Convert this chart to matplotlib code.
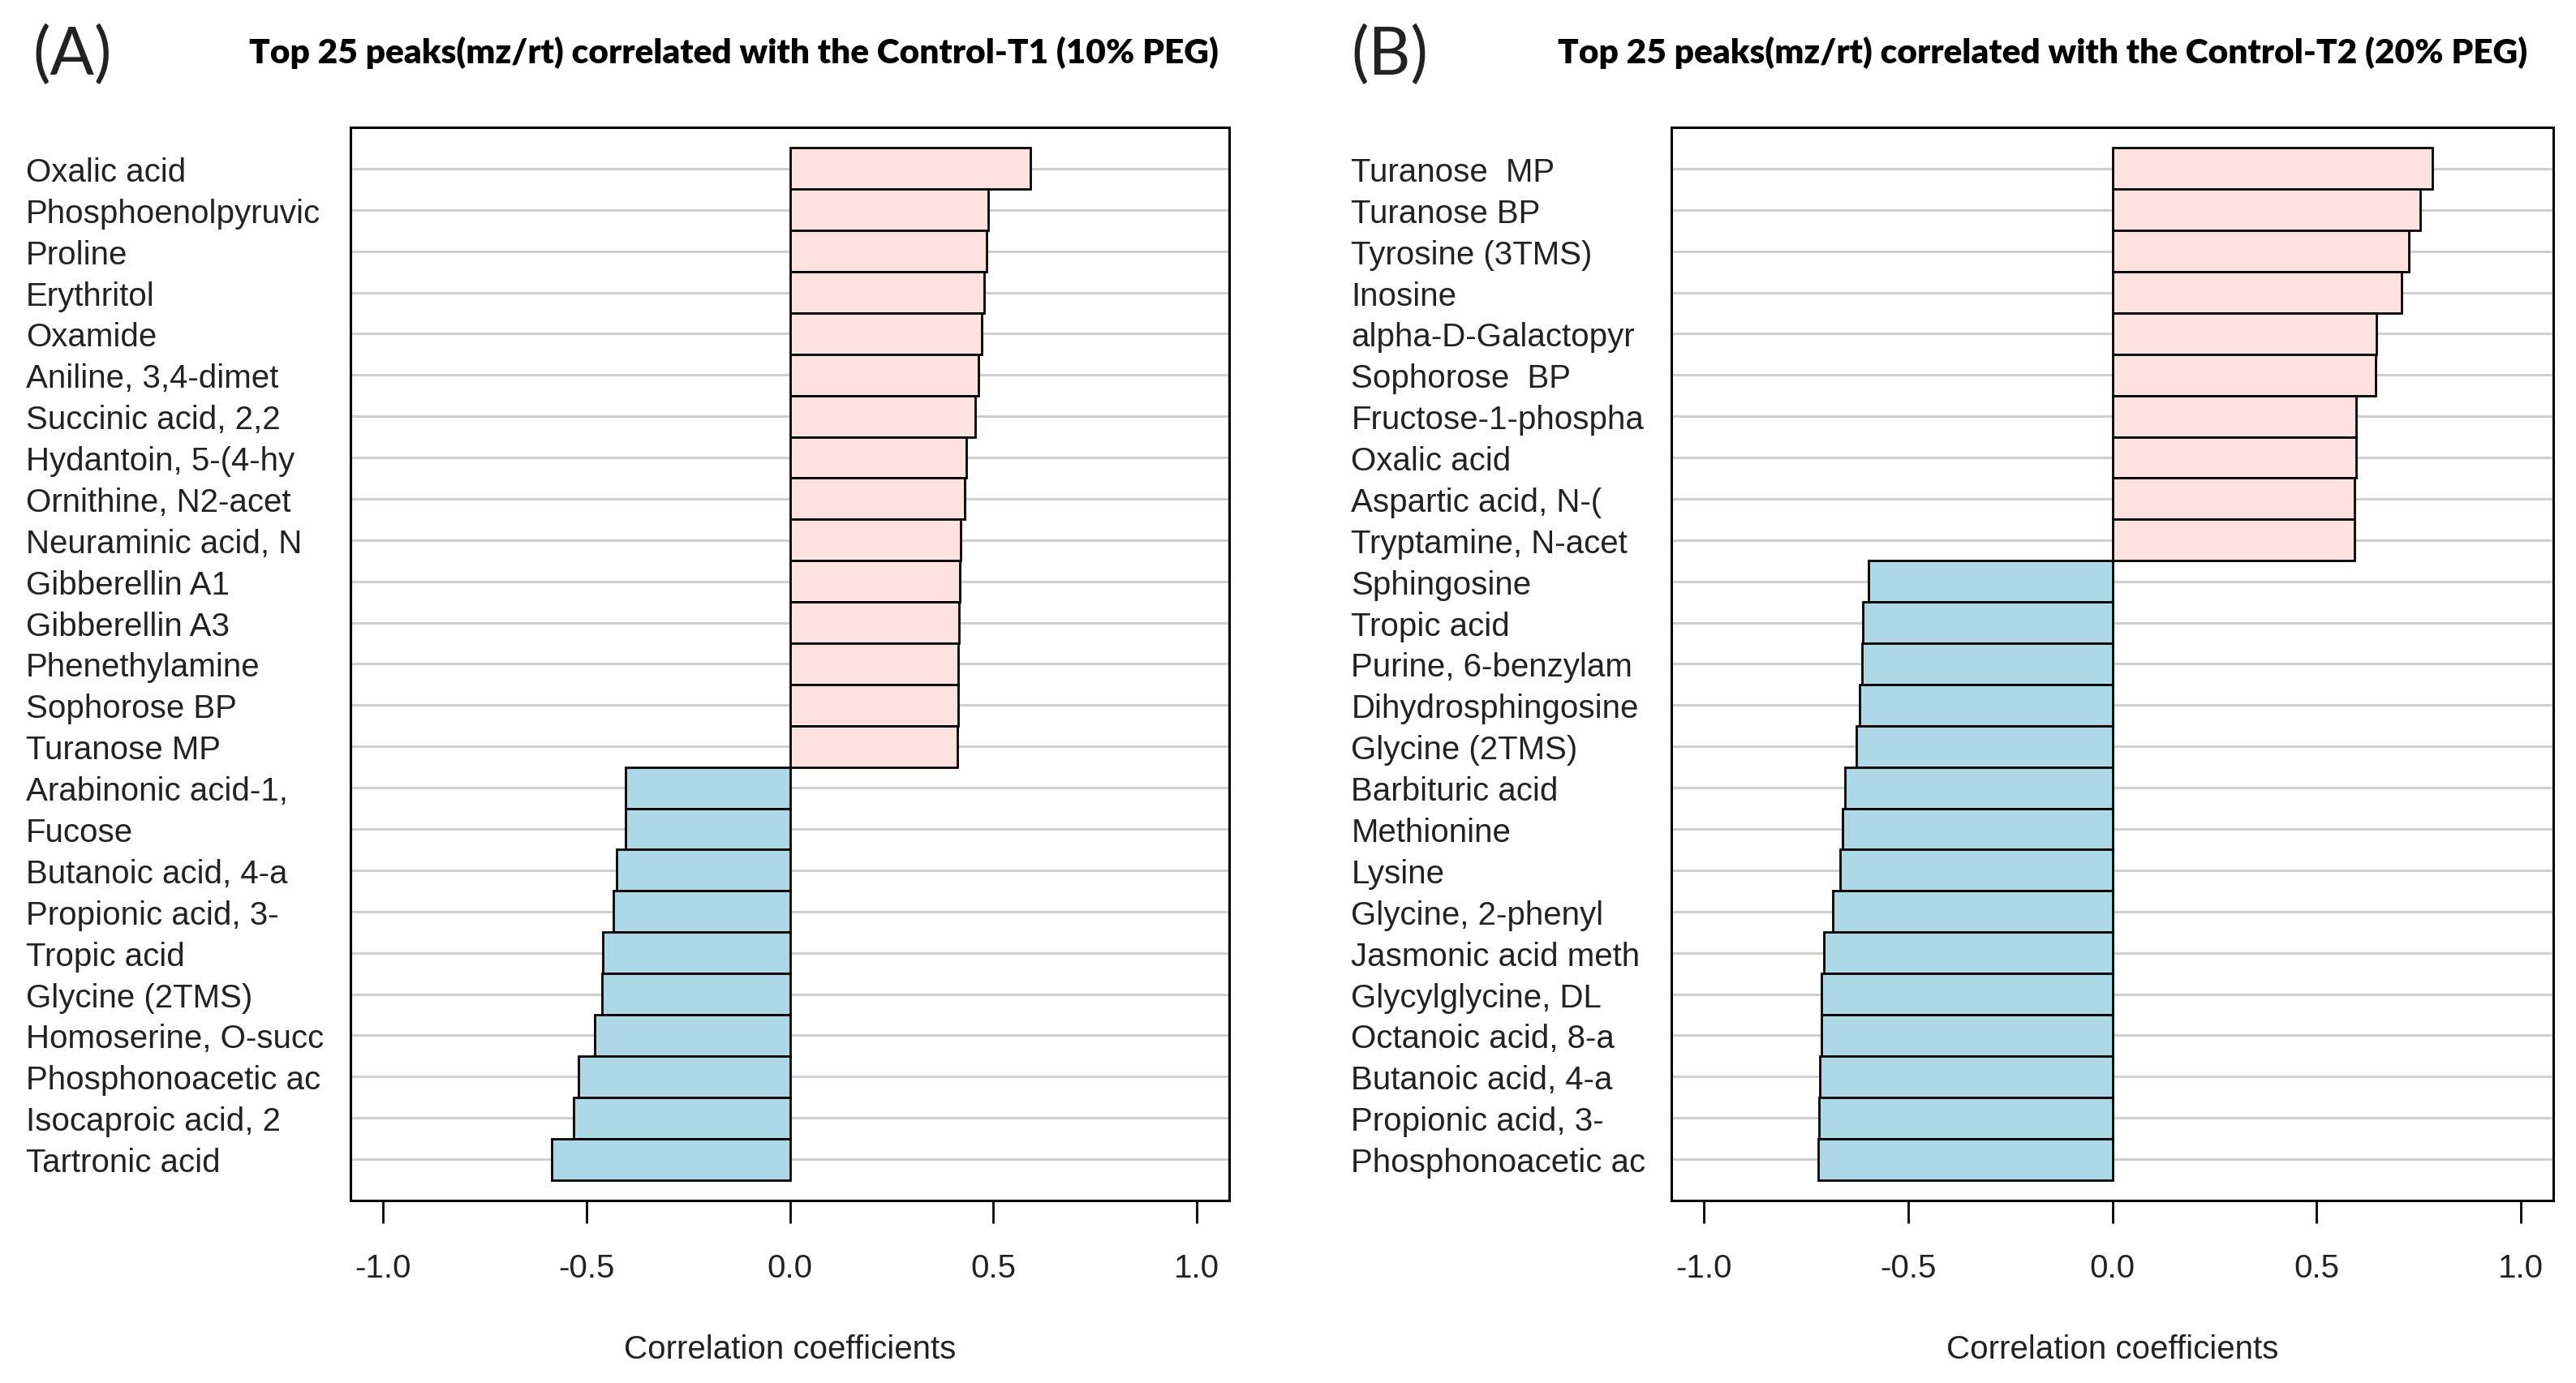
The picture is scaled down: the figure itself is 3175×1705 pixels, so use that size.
import matplotlib
matplotlib.use('Agg')
import matplotlib.pyplot as plt
import numpy as np

# Datos (de arriba hacia abajo)
nombres_a = ['Oxalic acid', 'Phosphoenolpyruvic', 'Proline', 'Erythritol', 'Oxamide',
             'Aniline, 3,4-dimet', 'Succinic acid, 2,2', 'Hydantoin, 5-(4-hy',
             'Ornithine, N2-acet', 'Neuraminic acid, N', 'Gibberellin A1', 'Gibberellin A3',
             'Phenethylamine', 'Sophorose BP', 'Turanose MP', 'Arabinonic acid-1,', 'Fucose',
             'Butanoic acid, 4-a', 'Propionic acid, 3-', 'Tropic acid', 'Glycine (2TMS)',
             'Homoserine, O-succ', 'Phosphonoacetic ac', 'Isocaproic acid, 2', 'Tartronic acid']
valores_a = [0.592, 0.488, 0.484, 0.478, 0.471, 0.463, 0.455, 0.433, 0.429, 0.420,
             0.418, 0.416, 0.414, 0.414, 0.412, -0.404, -0.404, -0.427, -0.435, -0.459,
             -0.461, -0.480, -0.520, -0.531, -0.586]

nombres_b = ['Turanose  MP', 'Turanose BP', 'Tyrosine (3TMS)', 'Inosine', 'alpha-D-Galactopyr',
             'Sophorose  BP', 'Fructose-1-phospha', 'Oxalic acid', 'Aspartic acid, N-(',
             'Tryptamine, N-acet', 'Sphingosine', 'Tropic acid', 'Purine, 6-benzylam',
             'Dihydrosphingosine', 'Glycine (2TMS)', 'Barbituric acid', 'Methionine', 'Lysine',
             'Glycine, 2-phenyl', 'Jasmonic acid meth', 'Glycylglycine, DL', 'Octanoic acid, 8-a',
             'Butanoic acid, 4-a', 'Propionic acid, 3-', 'Phosphonoacetic ac']
valores_b = [0.784, 0.754, 0.726, 0.708, 0.646, 0.644, 0.598, 0.598, 0.594, 0.594,
             -0.598, -0.610, -0.612, -0.618, -0.626, -0.654, -0.660, -0.666, -0.684,
             -0.706, -0.712, -0.712, -0.716, -0.718, -0.720]

ticks_x = [-1.0, -0.5, 0.0, 0.5, 1.0]
etiquetas_x = ['-1.0', '-0.5', '0.0', '0.5', '1.0']

titulo_a = 'Top 25 peaks(mz/rt) correlated with the Control-T1 (10% PEG)'
titulo_b = 'Top 25 peaks(mz/rt) correlated with the Control-T2 (20% PEG)'

ROSA = '#fde2df'
AZUL = '#add8e6'

plt.rcParams['font.family'] = ['Liberation Sans', 'DejaVu Sans']

fig = plt.figure(figsize=(31.75, 17.06), dpi=100)


def dibujar_panel(rect, nombres, valores, pad_etiquetas):
    ax = fig.add_axes(rect)
    n = len(nombres)
    pos = np.arange(n)[::-1]
    colores = [ROSA if v > 0 else AZUL for v in valores]

    # Líneas horizontales grises detrás de las barras
    for p in pos:
        ax.axhline(p, color='#cfcfcf', linewidth=2.2, zorder=0)

    ax.barh(pos, valores, height=1.0, color=colores, edgecolor='black',
            linewidth=2.0, zorder=2)

    ax.set_xlim(-1.08, 1.08)
    ax.set_ylim(-1.0, n)
    ax.set_yticks(pos)
    ax.set_yticklabels(nombres, ha='left', fontsize=29, color='#222222')
    ax.tick_params(axis='y', length=0, pad=pad_etiquetas)
    ax.set_xticks(ticks_x)
    ax.set_xticklabels(etiquetas_x, fontsize=29, color='#222222')
    ax.tick_params(axis='x', length=20, width=2.0, pad=26)
    ax.set_xlabel('Correlation coefficients', fontsize=29, color='#222222', labelpad=45)
    for lado in ax.spines.values():
        lado.set_linewidth(2.2)
    return ax


ax_a = dibujar_panel([0.1361, 0.1319, 0.3411, 0.7755], nombres_a, valores_a, 288)
ax_b = dibujar_panel([0.6488, 0.1319, 0.3424, 0.7755], nombres_b, valores_b, 284)

# Títulos y letras de panel
fig.text(904 / 3175, 1 - 65 / 1706, titulo_a, ha='center', va='center',
         fontsize=30.5, fontweight='heavy', family=['Lato', 'DejaVu Sans'])
fig.text(2518 / 3175, 1 - 65 / 1706, titulo_b, ha='center', va='center',
         fontsize=30.5, fontweight='heavy', family=['Lato', 'DejaVu Sans'])
fig.text(40 / 3175, 1 - 68 / 1706, '(A)', ha='left', va='center',
         fontsize=58, fontweight='normal', family=['Lato', 'DejaVu Sans'], color='#222222')
fig.text(1665 / 3175, 1 - 68 / 1706, '(B)', ha='left', va='center',
         fontsize=58, fontweight='normal', family=['Lato', 'DejaVu Sans'], color='#222222')

fig.savefig('out.png', dpi=100)
